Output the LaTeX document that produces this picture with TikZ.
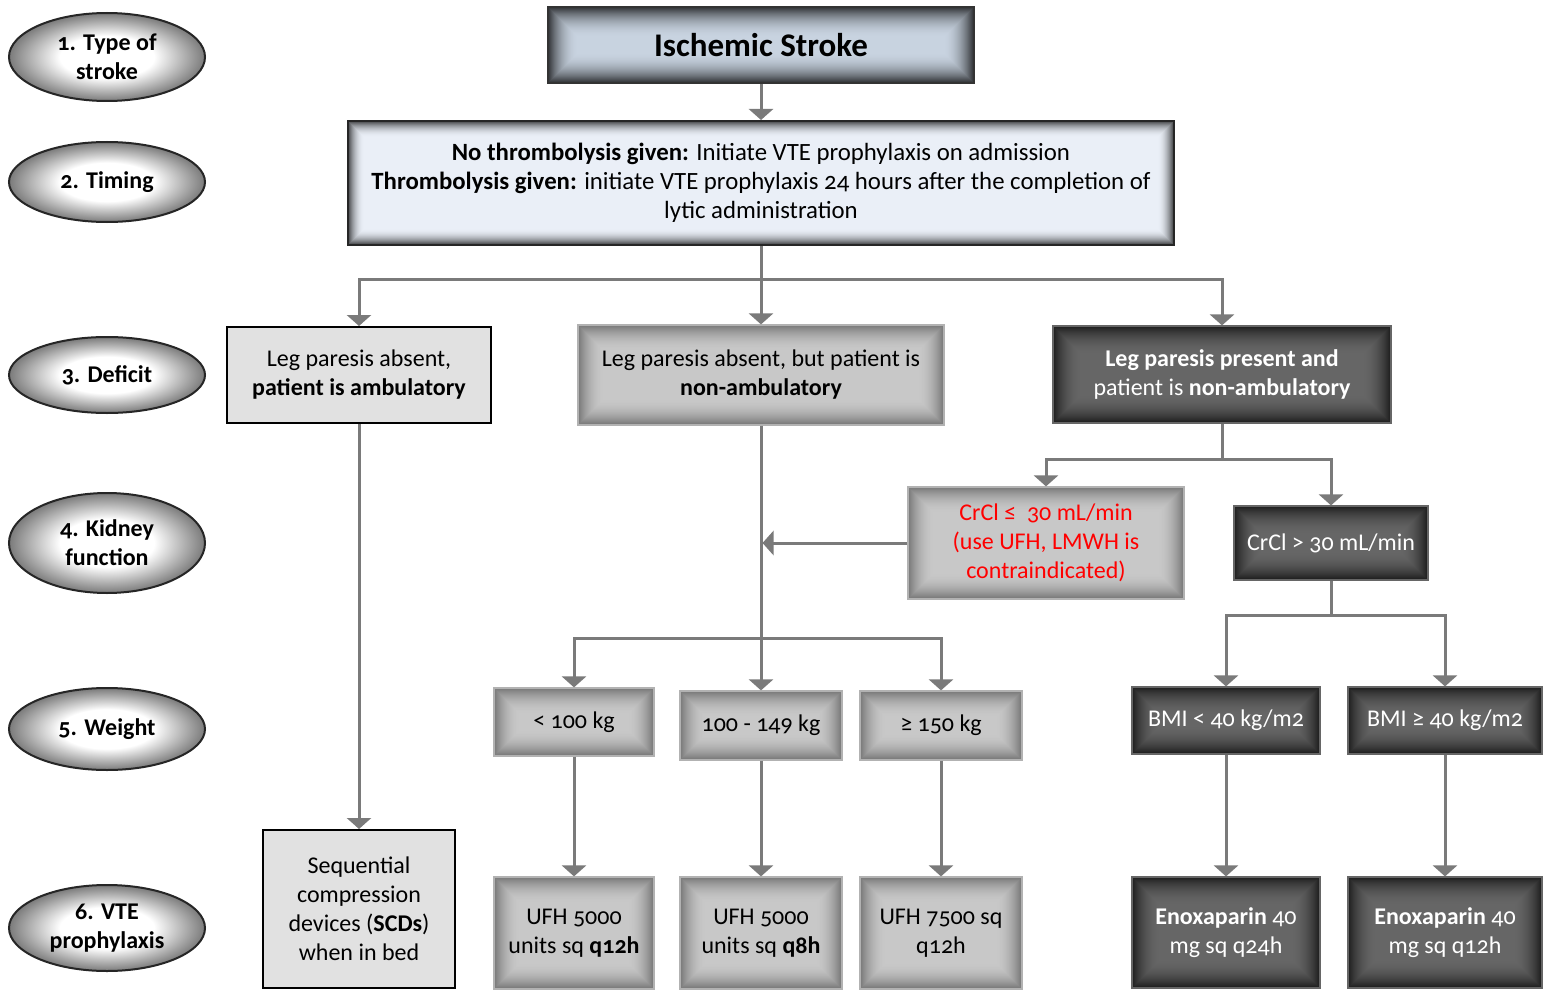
\documentclass[tikz,border=0pt]{standalone}
\usepackage{fontspec}
\setmainfont{Carlito}[Numbers=OldStyle]
\usetikzlibrary{shapes.geometric,arrows.meta,calc}
\definecolor{arrgray}{HTML}{7A7A7A}
\definecolor{iscfill}{HTML}{C8D3E0}
\definecolor{timfill}{HTML}{EAEFF7}
\definecolor{lightfill}{HTML}{E1E1E1}
\definecolor{grayfill}{HTML}{C8C8C8}
\definecolor{darkfill}{HTML}{666666}
\definecolor{redtxt}{HTML}{FF0000}
\pgfdeclareradialshading{ellglow}{\pgfpoint{0bp}{0bp}}{color(0bp)=(white); color(12bp)=(white); color(25bp)=(black!52); color(50bp)=(black!52)}
\tikzset{
  every node/.style={font=\fontsize{12}{14.5}\selectfont, align=center},
  rc/.style n args={4}{at={({(#1+#3)/2},{(#2+#4)/2})}, minimum width={(#3-#1)*0.5pt}, minimum height={(#4-#2)*0.5pt}},
  lab/.style={ellipse, draw=black!85, line width=1pt, shading=ellglow, minimum width=98pt, inner sep=0pt, font=\bfseries\fontsize{12}{14.5}\selectfont},
  glow/.style n args={3}{path picture={
    \foreach \k in {1,...,#3}{
      \pgfmathsetmacro\op{#2*(1-(\k-1)/#3)^2}
      \pgfmathsetmacro\ins{(\k-0.5)*0.5}
      \draw[#1, line width=0.52pt, draw opacity=\op]
        ($(path picture bounding box.north west)+(\ins pt,-\ins pt)$) rectangle
        ($(path picture bounding box.south east)+(-\ins pt,\ins pt)$);
    }}},
  iscbox/.style={rectangle, inner sep=0pt, fill=iscfill, draw=black!80, line width=1pt, glow={black}{0.75}{30}, font=\bfseries\fontsize{16.5}{19}\selectfont},
  timbox/.style={rectangle, inner sep=0pt, fill=timfill, draw=black!85, line width=1pt, glow={black}{0.7}{16}, font=\fontsize{12.4}{14.5}\selectfont},
  lightbox/.style={rectangle, inner sep=0pt, fill=lightfill, draw=black, line width=1pt},
  graybox/.style={rectangle, inner sep=0pt, fill=grayfill, draw=black!30, line width=0.6pt, glow={black}{0.4}{26}},
  darkbox/.style={rectangle, inner sep=0pt, fill=darkfill, draw=black!60, line width=0.6pt, glow={black}{0.7}{28}, text=white},
  conn/.style={draw=arrgray, line width=1.5pt},
  arr/.style={conn, -{Triangle[length=5.5pt,width=12pt]}},
}
\begin{document}
\begin{tikzpicture}[x=0.5pt,y=-0.5pt]
\useasboundingbox[fill=white] (0,0) rectangle (1553,990);

% stage labels
\node[lab, minimum height=44pt] (e1) at (107,57) {1. Type of\\stroke};
\node[lab, minimum height=40pt] (e2) at (107,182) {2. Timing};
\node[lab, minimum height=38pt] (e3) at (107,375) {3. Deficit};
\node[lab, minimum height=50pt] (e4) at (107,543) {4. Kidney\\function};
\node[lab, minimum height=41pt] (e5) at (107,729) {5. Weight};
\node[lab, minimum height=43pt] (e6) at (107,928) {6. VTE\\prophylaxis};

% boxes
\node[iscbox, rc={548}{7}{974}{83}] (isc) {Ischemic Stroke};
\node[timbox, rc={348}{121}{1174}{245}] (tim) {\textbf{No thrombolysis given:} Initiate VTE prophylaxis on admission\\\textbf{Thrombolysis given:} initiate VTE prophylaxis 24 hours after the completion of\\lytic administration};

\node[lightbox, rc={227}{327}{491}{423}] (b1) {Leg paresis absent,\\\textbf{patient is ambulatory}};
\node[graybox, rc={578}{325}{944}{425}] (b2) {Leg paresis absent, but patient is\\\textbf{non-ambulatory}};
\node[darkbox, rc={1053}{326}{1391}{423}] (b3) {\textbf{Leg paresis present and}\\patient is \textbf{non-ambulatory}};

\node[graybox, rc={908}{487}{1184}{599}, text=redtxt] (ca) {CrCl ≤\ \ 30 mL/min\\(use UFH, LMWH is\\contraindicated)};
\node[darkbox, rc={1234}{506}{1428}{580}] (cb) {CrCl > 30 mL/min};

\node[graybox, rc={494}{688}{654}{756}] (w1) {< 100 kg};
\node[graybox, rc={680}{691}{842}{760}] (w2) {100 - 149 kg};
\node[graybox, rc={860}{691}{1022}{760}] (w3) {≥ 150 kg};
\node[darkbox, rc={1132}{687}{1320}{754}] (m1) {BMI < 40 kg/m2};
\node[darkbox, rc={1348}{687}{1542}{754}] (m2) {BMI ≥ 40 kg/m2};

\node[lightbox, rc={263}{830}{455}{988}] (scd) {Sequential\\compression\\devices (\textbf{SCDs})\\when in bed};
\node[graybox, rc={494}{877}{654}{989}] (u1) {UFH 5000\\units sq \textbf{q12h}};
\node[graybox, rc={680}{877}{842}{989}] (u2) {UFH 5000\\units sq \textbf{q8h}};
\node[graybox, rc={860}{877}{1022}{989}] (u3) {UFH 7500 sq\\q12h};
\node[darkbox, rc={1132}{877}{1320}{988}] (n1) {\textbf{Enoxaparin} 40\\mg sq q24h};
\node[darkbox, rc={1348}{877}{1542}{988}] (n2) {\textbf{Enoxaparin} 40\\mg sq q12h};

% junctions
\coordinate (j1) at (tim.south |- 0,279);
\coordinate (j2) at (b2.south |- 0,638);
\coordinate (j3) at (b3.south |- 0,459);
\coordinate (j4) at (cb.south |- 0,615);
\coordinate (k1) at (b2.south |- ca.west);

% connectors
\draw[arr] (isc.south) -- (tim.north);
\draw[conn] (tim.south) -- (j1);
\draw[arr] (j1) -| (b1.north);
\draw[arr] (j1) -- (b2.north);
\draw[arr] (j1) -| (b3.north);
\draw[arr] (b1.south) -- (scd.north);

\draw[conn] (b2.south) -- (j2);
\draw[arr] (j2) -| (w1.north);
\draw[arr] (j2) -- (w2.north);
\draw[arr] (j2) -| (w3.north);
\draw[arr] (ca.west) -- ([xshift=0.75pt]k1);

\draw[conn] (b3.south) -- (j3);
\draw[arr] (j3) -| (ca.north);
\draw[arr] (j3) -| (cb.north);
\draw[conn] (cb.south) -- (j4);
\draw[arr] (j4) -| (m1.north);
\draw[arr] (j4) -| (m2.north);

\draw[arr] (w1.south) -- (u1.north);
\draw[arr] (w2.south) -- (u2.north);
\draw[arr] (w3.south) -- (u3.north);
\draw[arr] (m1.south) -- (n1.north);
\draw[arr] (m2.south) -- (n2.north);
\end{tikzpicture}
\end{document}
